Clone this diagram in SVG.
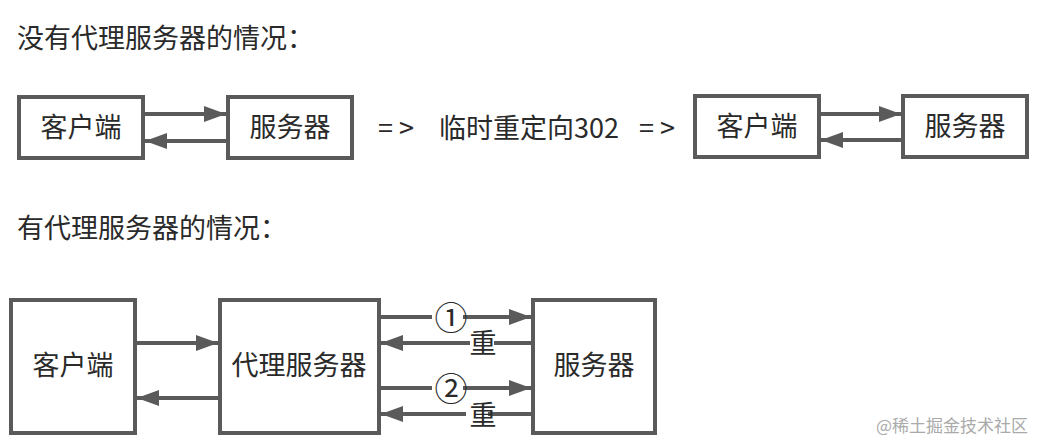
<svg xmlns="http://www.w3.org/2000/svg" width="1042" height="442" viewBox="0 0 1042 442">
<style>
.t{font-family:"Noto Sans CJK SC","Liberation Sans",sans-serif;font-size:27px;fill:#2a2a2a}
.c{text-anchor:middle}
.n{font-size:33px}
.box{fill:#fff;stroke:#5a5a5a;stroke-width:4}
.ln{stroke:#5a5a5a;stroke-width:4;fill:none}
.wm{font-family:"Noto Sans CJK SC","Liberation Sans",sans-serif;font-size:17px;fill:#aaa}
</style>
<defs>
<marker id="ah" markerUnits="userSpaceOnUse" markerWidth="22" markerHeight="16" refX="22" refY="8" orient="auto">
<path d="M0,0 L22,8 L0,16 z" fill="#5a5a5a"/>
</marker>
</defs>
<rect width="1042" height="442" fill="#fff"/>
<text class="t" x="17" y="48">没有代理服务器的情况：</text>
<text class="t" x="17" y="238">有代理服务器的情况：</text>
<text class="t" x="378" y="138">= &gt;</text>
<text class="t" x="439" y="138">临时重定向302</text>
<text class="t" x="639" y="138">= &gt;</text>
<g id="n1"><rect class="box" x="19" y="97" width="124" height="61"/><text class="t c" x="81" y="137">客户端</text></g>
<g id="n2"><rect class="box" x="228" y="97" width="124" height="61"/><text class="t c" x="290" y="137">服务器</text></g>
<g id="n3"><rect class="box" x="695" y="96" width="124" height="61"/><text class="t c" x="757" y="136">客户端</text></g>
<g id="n4"><rect class="box" x="903" y="96" width="124" height="61"/><text class="t c" x="965" y="136">服务器</text></g>
<g id="n5"><rect class="box" x="11" y="300" width="124" height="133"/><text class="t c" x="73" y="375">客户端</text></g>
<g id="n6"><rect class="box" x="220" y="300" width="159" height="133"/><text class="t c" x="299" y="375">代理服务器</text></g>
<g id="n7"><rect class="box" x="533" y="300" width="122" height="133"/><text class="t c" x="594" y="375">服务器</text></g>
<g id="edges">
<line class="ln" x1="145" y1="114" x2="226" y2="114" marker-end="url(#ah)"/>
<line class="ln" x1="226" y1="141" x2="145" y2="141" marker-end="url(#ah)"/>
<line class="ln" x1="821" y1="114" x2="901" y2="114" marker-end="url(#ah)"/>
<line class="ln" x1="901" y1="140" x2="821" y2="140" marker-end="url(#ah)"/>
<line class="ln" x1="137" y1="343" x2="218" y2="343" marker-end="url(#ah)"/>
<line class="ln" x1="218" y1="398" x2="137" y2="398" marker-end="url(#ah)"/>
<line class="ln" x1="381" y1="317" x2="432" y2="317"/>
<line class="ln" x1="463" y1="317" x2="531" y2="317" marker-end="url(#ah)"/>
<line class="ln" x1="531" y1="343" x2="494" y2="343"/>
<line class="ln" x1="470" y1="343" x2="381" y2="343" marker-end="url(#ah)"/>
<line class="ln" x1="381" y1="388" x2="432" y2="388"/>
<line class="ln" x1="463" y1="388" x2="531" y2="388" marker-end="url(#ah)"/>
<line class="ln" x1="531" y1="414" x2="488" y2="414"/>
<line class="ln" x1="466" y1="414" x2="381" y2="414" marker-end="url(#ah)"/>
<text class="t c n" x="451" y="330">①</text>
<text class="t c n" x="451" y="401">②</text>
<text class="t c" x="483" y="353">重</text>
<text class="t c" x="483" y="425">重</text>
</g>
<text class="wm" x="876" y="432">@稀土掘金技术社区</text>
</svg>
